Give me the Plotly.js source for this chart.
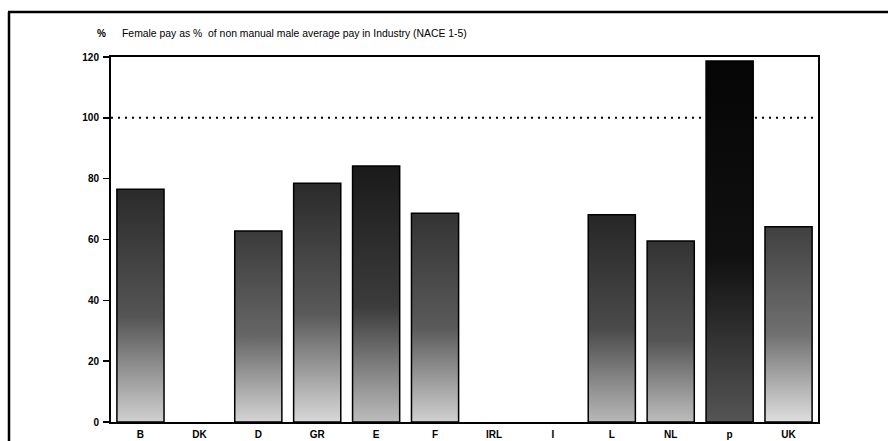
<!DOCTYPE html>
<html>
<head>
<meta charset="utf-8">
<script src="https://cdn.plot.ly/plotly-3.0.1.min.js"></script>
<style>
html,body{margin:0;padding:0;background:#fff;}
#chart{width:888px;height:441px;}
</style>
</head>
<body>
<div id="chart"></div>
<script>
// Data
const countries = ["B","DK","D","GR","E","F","IRL","I","L","NL","p","UK"];
const femalePayPct = [76.5, null, 62.8, 78.5, 84.2, 68.6, null, null, 68.1, 59.5, 118.7, 64.2];
const referenceLevel = 100;
const yTicks = [0, 20, 40, 60, 80, 100, 120];
const titleText = "Female pay as %  of non manual male average pay in Industry (NACE 1-5)";
const unitText = "%";

// Styles (shading of each bar, top to bottom)
const barColors  = ["#5a5a5a","#666","#707070","#5e5e5e","#444","#626262","#666","#666","#555","#5e5e5e","#161616","#777"];
const barTopCol  = ["#2a2a2a","#333","#3a3a3a","#2a2a2a","#1a1a1a","#333","#333","#333","#262626","#333","#050505","#404040"];
const barMidCol  = ["#555","#666","#666","#5a5a5a","#3c3c3c","#5a5a5a","#666","#666","#4a4a4a","#555","#111","#707070"];
const barBotCol  = ["#d0d0d0","#ccc","#d4d4d4","#d8d8d8","#bcbcbc","#d0d0d0","#ccc","#ccc","#b8b8b8","#bdbdbd","#555","#dedede"];

const L = 111, R = 818, T = 57, B = 422;
const px = x => (x - L) / (R - L);
const py = y => (B - y) / (B - T);

const trace = {
  type: "bar",
  x: countries,
  y: femalePayPct,
  marker: {color: barColors, line: {color: "#000", width: 1.5}},
  hoverinfo: "x+y"
};

const font = {family: "Liberation Sans, Arial, sans-serif", size: 10, color: "#000"};

const layout = {
  width: 888, height: 441,
  margin: {l: L, r: 888 - R, t: T, b: 441 - B, pad: 0},
  paper_bgcolor: "#fff", plot_bgcolor: "#fff",
  showlegend: false,
  bargap: 0.2,
  font: font,
  xaxis: {
    type: "category",
    showline: true, linecolor: "#000", linewidth: 2, mirror: true,
    ticks: "", showgrid: false, zeroline: false,
    tickfont: {family: font.family, size: 10, color: "#000", weight: "bold"},
    ticklabelstandoff: 2
  },
  yaxis: {
    range: [0, 120], tickvals: yTicks,
    showline: true, linecolor: "#000", linewidth: 2, mirror: true,
    ticks: "outside", ticklen: 6, tickwidth: 1.5, tickcolor: "#000",
    showgrid: false, zeroline: false,
    tickfont: {family: font.family, size: 10, color: "#000", weight: "bold"},
    ticklabelstandoff: 2
  },
  shapes: [
    {type: "line", xref: "paper", yref: "y", x0: 0, x1: 1, y0: referenceLevel, y1: referenceLevel,
     line: {color: "#000", width: 2, dash: "2px,5px"}, layer: "below"},
    {type: "line", xref: "paper", yref: "paper", x0: px(9), x1: px(9), y0: py(12), y1: py(450),
     line: {color: "#000", width: 2.5}},
    {type: "line", xref: "paper", yref: "paper", x0: px(8), x1: px(895), y0: py(12), y1: py(12),
     line: {color: "#000", width: 2.5}}
  ],
  annotations: [
    {xref: "paper", yref: "paper", x: px(95), y: py(33), xanchor: "left", yanchor: "middle",
     text: unitText, showarrow: false, font: {family: font.family, size: 10, color: "#000", weight: "bold"}},
    {xref: "paper", yref: "paper", x: px(120), y: py(33), xanchor: "left", yanchor: "middle",
     text: titleText, showarrow: false, font: {family: font.family, size: 10.4, color: "#000"}}
  ]
};

Plotly.newPlot("chart", [trace], layout, {displayModeBar: false, staticPlot: true}).then(gd => {
  const NS = "http://www.w3.org/2000/svg";
  const svg = gd.querySelector("svg.main-svg");
  let defs = svg.querySelector("defs");
  if (!defs) { defs = document.createElementNS(NS, "defs"); svg.insertBefore(defs, svg.firstChild); }
  gd.querySelectorAll(".barlayer .point").forEach((pt, k) => {
    const d = pt.__data__;
    const i = (d && typeof d.i === "number") ? d.i : k;
    const path = pt.querySelector("path");
    if (!path) return;
    const g = document.createElementNS(NS, "linearGradient");
    g.setAttribute("id", "barGrad" + i);
    g.setAttribute("x1", "0"); g.setAttribute("y1", "0");
    g.setAttribute("x2", "0"); g.setAttribute("y2", "1");
    [[0, barTopCol[i]], [0.55, barMidCol[i]], [1, barBotCol[i]]].forEach(([o, c]) => {
      const s = document.createElementNS(NS, "stop");
      s.setAttribute("offset", o);
      s.setAttribute("stop-color", c);
      g.appendChild(s);
    });
    defs.appendChild(g);
    path.style.fill = "url(#barGrad" + i + ")";
  });
});
</script>
</body>
</html>
